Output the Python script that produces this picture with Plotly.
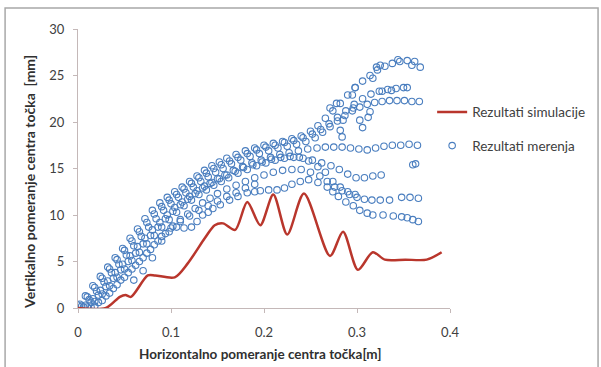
import plotly.graph_objects as go

# ---- simulation curve ----
sim_x = [0.000, 0.030, 0.045, 0.051, 0.057, 0.075, 0.083, 0.104, 0.118, 0.137, 0.147, 0.156, 0.169,
         0.182, 0.196, 0.210, 0.225, 0.243, 0.271, 0.285, 0.301, 0.317, 0.330, 0.352, 0.375, 0.391]
sim_y = [0.0, 0.0, 1.2, 1.4, 1.2, 3.5, 3.5, 3.3, 4.8, 7.6, 8.9, 9.1, 8.4,
         11.4, 8.9, 12.2, 7.9, 12.3, 5.6, 8.2, 4.1, 6.0, 5.2, 5.2, 5.2, 6.0]

# ---- measurement runs ----
runA_x = [0.000, 0.008, 0.016, 0.024, 0.032, 0.040, 0.048, 0.056, 0.064, 0.072, 0.080, 0.088, 0.096, 0.104,
          0.112, 0.120, 0.128, 0.136, 0.144, 0.152, 0.160, 0.170, 0.180, 0.190, 0.200, 0.210, 0.220, 0.230,
          0.240, 0.250, 0.258, 0.266, 0.274, 0.282, 0.290, 0.298, 0.306, 0.314, 0.322, 0.330, 0.338, 0.346,
          0.354, 0.362]
runA_y = [0.3, 1.3, 2.4, 3.4, 4.4, 5.4, 6.4, 7.5, 8.5, 9.6, 10.5, 11.3, 11.9, 12.5,
          13.0, 13.6, 14.2, 14.8, 15.3, 15.7, 16.1, 16.5, 16.9, 17.2, 17.5, 17.7, 17.9, 18.2,
          18.5, 19.0, 19.6, 20.4, 21.2, 22.0, 22.9, 23.7, 24.4, 25.0, 25.6, 26.0, 26.3, 26.5,
          26.6, 26.5]

runG_x = [0.002, 0.010, 0.018, 0.026, 0.034, 0.042, 0.050, 0.058, 0.066, 0.074, 0.082, 0.090, 0.098, 0.106,
          0.114, 0.122, 0.130, 0.138, 0.146, 0.154, 0.163, 0.172, 0.182, 0.192, 0.202, 0.212, 0.222, 0.232,
          0.242, 0.252, 0.261, 0.270, 0.279, 0.288, 0.297, 0.306, 0.315, 0.324, 0.333, 0.342, 0.350]
runG_y = [0.4, 1.2, 2.2, 3.2, 4.2, 5.2, 6.2, 7.2, 8.2, 9.2, 10.1, 10.9, 11.6, 12.2,
          12.8, 13.4, 14.0, 14.5, 15.0, 15.4, 15.8, 16.2, 16.6, 17.0, 17.3, 17.5, 17.8, 18.0,
          18.3, 18.7, 19.2, 19.8, 20.5, 21.2, 21.9, 22.5, 23.0, 23.3, 23.5, 23.6, 23.7]

runB_x = [0.004, 0.012, 0.020, 0.028, 0.036, 0.044, 0.052, 0.060, 0.068, 0.076, 0.084, 0.092, 0.100, 0.108,
          0.116, 0.124, 0.132, 0.140, 0.148, 0.156, 0.165, 0.175, 0.185, 0.195, 0.205, 0.215, 0.225, 0.235,
          0.245, 0.255, 0.263, 0.271, 0.279, 0.287, 0.295, 0.303, 0.311, 0.319, 0.327, 0.335, 0.343, 0.351,
          0.359, 0.367]
runB_y = [0.2, 0.9, 1.8, 2.8, 3.8, 4.7, 5.7, 6.7, 7.7, 8.7, 9.6, 10.5, 11.2, 11.9,
          12.4, 13.0, 13.6, 14.1, 14.6, 15.0, 15.5, 15.9, 16.3, 16.6, 16.9, 17.2, 17.4, 17.6,
          17.9, 18.3, 18.9, 19.5, 20.1, 20.7, 21.2, 21.6, 21.9, 22.1, 22.2, 22.3, 22.3, 22.3,
          22.2, 22.2]

runC_x = [0.006, 0.014, 0.022, 0.030, 0.038, 0.046, 0.054, 0.062, 0.070, 0.078, 0.086, 0.094, 0.102, 0.110,
          0.118, 0.126, 0.134, 0.142, 0.150, 0.158, 0.167, 0.177, 0.187, 0.197, 0.207, 0.217, 0.227, 0.237,
          0.247, 0.257, 0.266, 0.275, 0.284, 0.293, 0.302, 0.311, 0.320, 0.329, 0.338, 0.347, 0.356, 0.365]
runC_y = [0.1, 0.6, 1.4, 2.3, 3.2, 4.1, 5.0, 5.9, 6.9, 7.8, 8.7, 9.6, 10.4, 11.1,
          11.7, 12.3, 12.9, 13.4, 13.9, 14.3, 14.8, 15.2, 15.6, 15.9, 16.2, 16.5, 16.7, 16.9,
          17.1, 17.2, 17.3, 17.3, 17.3, 17.2, 17.1, 17.0, 17.2, 17.4, 17.5, 17.5, 17.6, 17.5]

runH_x = [0.008, 0.016, 0.024, 0.032, 0.040, 0.048, 0.056, 0.064, 0.072, 0.080, 0.088, 0.096, 0.104, 0.112,
          0.120, 0.128, 0.136, 0.144, 0.152, 0.160, 0.169, 0.178, 0.188, 0.198, 0.208, 0.218, 0.228, 0.238,
          0.248, 0.258, 0.266, 0.274, 0.282, 0.290, 0.298]
runH_y = [0.3, 1.0, 1.9, 2.9, 3.8, 4.7, 5.6, 6.6, 7.5, 8.4, 9.2, 10.0, 10.8, 11.4,
          12.0, 12.6, 13.1, 13.5, 13.9, 14.3, 14.7, 15.1, 15.4, 15.7, 16.0, 16.2, 16.3, 16.2,
          15.8, 15.2, 14.6, 13.6, 13.0, 12.5, 12.2]

runD_x = [0.010, 0.018, 0.026, 0.034, 0.042, 0.050, 0.058, 0.066, 0.074, 0.082, 0.090, 0.098, 0.106, 0.114,
          0.122, 0.130, 0.138, 0.146, 0.154, 0.162, 0.172, 0.182, 0.192, 0.202, 0.212, 0.222, 0.232, 0.242,
          0.252, 0.262, 0.272, 0.281, 0.290, 0.299, 0.308, 0.317, 0.326]
runD_y = [0.1, 0.7, 1.5, 2.4, 3.3, 4.2, 5.1, 6.0, 6.9, 7.8, 8.7, 9.5, 10.3, 11.0,
          11.6, 12.2, 12.7, 13.2, 13.6, 14.0, 14.5, 14.9, 15.3, 15.6, 15.9, 16.1, 16.2, 16.1,
          15.9, 15.6, 15.3, 14.9, 14.4, 14.0, 14.0, 14.2, 14.3]

runE_x = [0.014, 0.022, 0.030, 0.038, 0.046, 0.054, 0.062, 0.070, 0.078, 0.086, 0.094, 0.102, 0.110, 0.118,
          0.126, 0.134, 0.142, 0.150, 0.160, 0.170, 0.180, 0.190, 0.200, 0.210, 0.220, 0.230, 0.240, 0.250,
          0.260, 0.268, 0.276, 0.284, 0.292, 0.300, 0.308, 0.316, 0.325, 0.335, 0.348, 0.357, 0.366]
runE_y = [0.1, 0.6, 1.3, 2.1, 3.0, 3.8, 4.6, 5.4, 6.3, 7.2, 8.0, 8.8, 9.5, 10.1,
          10.7, 11.3, 11.8, 12.3, 12.8, 13.2, 13.6, 14.0, 14.3, 14.6, 14.8, 14.9, 14.9, 14.6,
          14.2, 13.6, 13.0, 12.6, 12.2, 11.9, 11.7, 11.6, 11.6, 11.6, 11.9, 11.9, 11.8]

runI_x = [0.018, 0.026, 0.034, 0.042, 0.050, 0.058, 0.066, 0.074, 0.082, 0.090, 0.100, 0.110, 0.120, 0.130,
          0.140, 0.150, 0.160, 0.170, 0.180, 0.190]
runI_y = [0.2, 0.8, 1.6, 2.5, 3.3, 4.2, 5.0, 5.9, 6.8, 7.7, 8.6, 9.3, 9.9, 10.5,
          11.0, 11.5, 12.0, 12.4, 12.9, 13.3]

runF_x = [0.060, 0.070, 0.080, 0.090, 0.098, 0.106, 0.114, 0.122, 0.128, 0.134, 0.140, 0.145, 0.153, 0.163,
          0.172, 0.182, 0.190, 0.196, 0.205, 0.214, 0.222, 0.230, 0.239, 0.248, 0.258, 0.268, 0.274, 0.280,
          0.288, 0.296, 0.303, 0.311, 0.317, 0.328, 0.339, 0.348, 0.354, 0.360, 0.366]
runF_y = [3.0, 4.0, 5.4, 7.2, 8.2, 8.7, 8.6, 8.7, 9.3, 10.0, 10.3, 10.7, 11.1, 11.6,
          12.0, 12.4, 12.5, 12.6, 12.7, 12.7, 12.9, 13.3, 13.6, 13.8, 13.5, 13.0, 12.5, 12.0,
          11.4, 11.0, 10.5, 10.2, 10.0, 10.0, 9.9, 9.8, 9.7, 9.5, 9.3]

extra_x = [0.360, 0.363, 0.278, 0.271, 0.285, 0.296, 0.303, 0.306, 0.312, 0.314, 0.282, 0.284,
           0.298, 0.295, 0.317, 0.327, 0.337, 0.354, 0.325, 0.344, 0.359, 0.368, 0.321]
extra_y = [15.4, 15.5, 22.0, 21.5, 20.2, 21.5, 20.2, 19.4, 20.5, 21.1, 19.1, 18.4,
           23.7, 22.9, 24.7, 23.3, 23.4, 23.7, 26.1, 26.7, 26.1, 25.9, 25.9]

meas_x = runA_x + runG_x + runB_x + runC_x + runH_x + runD_x + runE_x + runI_x + runF_x + extra_x
meas_y = runA_y + runG_y + runB_y + runC_y + runH_y + runD_y + runE_y + runI_y + runF_y + extra_y

x_ticks = [0, 0.1, 0.2, 0.3, 0.4]
x_tick_labels = ["0", "0.1", "0.2", "0.3", "0.4"]
y_ticks = [0, 5, 10, 15, 20, 25, 30]

FONT = "Lato, 'Liberation Sans', sans-serif"
TXT = "#404040"
AX = "#c4b8b8"

fig = go.Figure()
fig.add_trace(go.Scatter(
    x=meas_x, y=meas_y, mode="markers", name="Rezultati merenja",
    legendgroup="b", legendrank=2,
    marker=dict(symbol="circle-open", size=6.5, color="#4a7ebf", line=dict(width=1.1, color="#4a7ebf")),
))
fig.add_trace(go.Scatter(
    x=sim_x, y=sim_y, mode="lines", name="Rezultati simulacije",
    legendgroup="a", legendrank=1,
    line=dict(color="#b9362c", width=2.5, shape="spline", smoothing=0.8),
))

fig.update_layout(
    width=601, height=367,
    margin=dict(l=78, r=151, t=29, b=59, autoexpand=False),
    paper_bgcolor="white", plot_bgcolor="white",
    font=dict(family=FONT, size=13, color=TXT),
    showlegend=True,
    legend=dict(x=0.952, y=0.757, xanchor="left", yanchor="top",
                traceorder="grouped", tracegroupgap=13,
                font=dict(family=FONT, size=13.5, color=TXT),
                bgcolor="rgba(0,0,0,0)", itemwidth=30),
    xaxis=dict(range=[0, 0.4], tickvals=x_ticks, ticktext=x_tick_labels,
               showgrid=False, zeroline=False, showline=True, linecolor=AX, linewidth=1,
               ticks="outside", ticklen=4, tickcolor=AX, ticklabelstandoff=8,
               tickfont=dict(size=13, color=TXT)),
    yaxis=dict(range=[0, 30], tickvals=y_ticks, showgrid=False, zeroline=False,
               showline=True, linecolor=AX, linewidth=1,
               ticks="outside", ticklen=4, tickcolor=AX, ticklabelstandoff=6,
               tickfont=dict(size=13, color=TXT)),
    annotations=[
        dict(text="<b>Horizontalno pomeranje centra točka[m]</b>", xref="paper", yref="paper",
             x=0.49, y=-0.165, xanchor="center", yanchor="middle", showarrow=False,
             font=dict(family=FONT, size=13.5, color="#303030")),
        dict(text="<b>Vertikalno pomeranje centra točka  [mm]</b>", xref="paper", yref="paper",
             x=0, y=0.45, xanchor="right", yanchor="middle", xshift=-38, textangle=-90, showarrow=False,
             font=dict(family=FONT, size=14, color="#303030")),
    ],
    shapes=[
        dict(type="rect", xref="paper", yref="paper", x0=-0.196, x1=1.398, y0=-0.3, y1=1.075,
             line=dict(color="#a8a8a8", width=1.5), fillcolor="rgba(0,0,0,0)", layer="below"),
    ],
)

fig.write_html("out.html", config={"displayModeBar": False},
               post_script="document.body.style.margin='0px';")
